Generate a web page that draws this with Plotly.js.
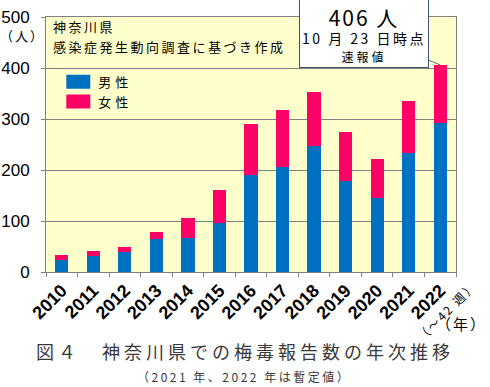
<!DOCTYPE html>
<html><head><meta charset="utf-8">
<script src="https://cdn.plot.ly/plotly-3.0.1.min.js"></script>
<style>
html,body{margin:0;padding:0;background:#fff;}
#chart{width:490px;height:387px;}
.gtitle{letter-spacing:4px;}
.legendtext{letter-spacing:4px;}
</style></head><body>
<div id="chart"></div>
<script>
var years = ['2010','2011','2012','2013','2014','2015','2016','2017','2018','2019','2020','2021','2022'];
var tickLabels = ['2010','2011','2012','2013','2014','2015','2016','2017','2018','2019','2020','2021','2022'];
var lastYearNote = '（～42 週）';
var male   = [24, 32, 39, 65, 67, 96, 190, 206, 248, 178, 145, 233, 292];
var female = [9, 9, 10, 13, 39, 65, 100, 112, 105, 97, 77, 102, 114];
var seriesNames = ['男性', '女性'];
var latestTotal = 406;

var jp = '"Noto Sans CJK JP", sans-serif';
function sp(t, s){ return '<span style="letter-spacing:' + s + 'px">' + t + '</span>'; }
var traces = [
  {type:'bar', x:years, y:male, name:seriesNames[0], marker:{color:'#0070C0'}, legendgroup:'m'},
  {type:'bar', x:years, y:female, name:seriesNames[1], marker:{color:'#FF0066'}, legendgroup:'f'}
];
var layout = {
  width:490, height:387,
  margin:{l:46, r:34, t:17, b:115},
  paper_bgcolor:'#ffffff', plot_bgcolor:'#FFFFCC',
  barmode:'stack', bargap:0.58,
  showlegend:true,
  legend:{x:0.03, y:0.805, xanchor:'left', yanchor:'top', bgcolor:'rgba(0,0,0,0)',
          font:{family:jp, size:13, color:'#000'}, traceorder:'normal', tracegroupgap:7},
  title:{text:'図４　神奈川県での梅毒報告数の年次推移', font:{family:jp, size:18, color:'#3a3a3a'},
         x:0.5, xanchor:'center', yref:'container', y:1-353/387, yanchor:'middle'},
  xaxis:{type:'category', categoryorder:'array', categoryarray:years, range:[-0.5, 12.5], autorange:false,
         tickmode:'array', tickvals:years, ticktext:tickLabels, tickangle:-45,
         tickfont:{family:'"Liberation Sans", Arial, sans-serif', size:18, color:'#000', weight:'bold'},
         ticks:'outside', ticklen:4, tickcolor:'#808080', tickson:'boundaries',
         showline:true, linecolor:'#808080', mirror:true, showgrid:false},
  yaxis:{range:[0,500], autorange:false, dtick:100, tickfont:{family:'"Liberation Sans", Arial, sans-serif', size:17, color:'#000'},
         ticks:'outside', ticklen:4, tickcolor:'#808080', ticklabelstandoff:8,
         showline:true, linecolor:'#808080', mirror:true, showgrid:true, gridcolor:'#808080', zeroline:false},
  annotations:[
    {xref:'paper', yref:'paper', x:(22-46)/410, y:(272-36)/255, xanchor:'center', yanchor:'middle', text:sp('（人）', 2), showarrow:false,
     font:{family:jp, size:13, color:'#000'}},
    {xref:'paper', yref:'paper', x:0.012, y:(272-27)/255, xanchor:'left', yanchor:'middle', text:sp('神奈川県', 2.5), showarrow:false,
     font:{family:jp, size:13, color:'#000'}},
    {xref:'paper', yref:'paper', x:0.012, y:(272-46)/255, xanchor:'left', yanchor:'middle', text:sp('感染症発生動向調査に基づき作成', 2.5), showarrow:false,
     font:{family:jp, size:13, color:'#000'}},
    {xref:'paper', yref:'paper', x:(446-46)/410, y:(272-310)/255, xanchor:'center', yanchor:'middle', textangle:-45,
     text:sp(lastYearNote, 2), showarrow:false, font:{family:jp, size:12, color:'#000'}},
    {xref:'paper', yref:'paper', x:(489-46)/410, y:(272-323)/255, xanchor:'right', yanchor:'middle', text:sp('（年）', 2), showarrow:false,
     font:{family:jp, size:15, color:'#000'}},
    {xref:'paper', yref:'paper', x:(244-46)/410, y:-(377-272)/255, xanchor:'center', yanchor:'middle', text:sp('（2021 年、2022 年は暫定値）', 2.5), showarrow:false,
     font:{family:jp, size:12, color:'#3a3a3a'}},
    {x:12, y:latestTotal, xref:'x', yref:'y', showarrow:true, arrowhead:0, arrowwidth:1, arrowcolor:'#4F6D8A',
     ax:-76, ay:-31, standoff:0,
     text:'<span style="font-size:21px;letter-spacing:2px">' + latestTotal + ' 人</span><br>' + sp('10 月 23 日時点', 2.5) +
          '<br><span style="font-size:12px;letter-spacing:3px">速報値</span>',
     font:{family:jp, size:14, color:'#000'}, bgcolor:'#ffffff', bordercolor:'#3B5573', borderwidth:1,
     width:126, height:65, align:'center', valign:'middle'}
  ]
};
Plotly.newPlot('chart', traces, layout, {displayModeBar:false, staticPlot:true}).then(function(gd){
  // enlarge legend swatches to match the reference's wide rectangles
  gd.querySelectorAll('.legendpoints path').forEach(function(p){
    p.setAttribute('d', 'M12,7H-12V-7H12Z');
  });
});
</script>
</body></html>
